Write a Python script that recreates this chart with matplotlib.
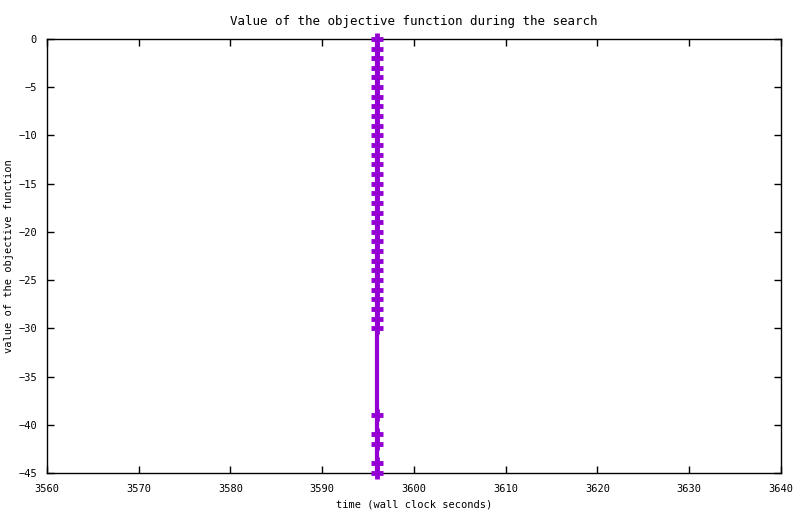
import numpy as np
import matplotlib
matplotlib.use('Agg')
import matplotlib.pyplot as plt

# datos (gnuplot)
tiempo = [3596, 3596, 3596, 3596, 3596, 3596, 3596, 3596, 3596, 3596,
          3596, 3596, 3596, 3596, 3596, 3596, 3596, 3596, 3596, 3596,
          3596, 3596, 3596, 3596, 3596, 3596, 3596, 3596, 3596, 3596,
          3596, 3596, 3596, 3596, 3596, 3596]
objetivo = [0, -1, -2, -3, -4, -5, -6, -7, -8, -9,
            -10, -11, -12, -13, -14, -15, -16, -17, -18, -19,
            -20, -21, -22, -23, -24, -25, -26, -27, -28, -29,
            -30, -39, -41, -42, -44, -45]

xticks = [3560, 3570, 3580, 3590, 3600, 3610, 3620, 3630, 3640]
yticks = [0, -5, -10, -15, -20, -25, -30, -35, -40, -45]

plt.rcParams['font.family'] = 'DejaVu Sans Mono'
plt.rcParams['font.size'] = 7.5

fig = plt.figure(figsize=(8, 5.14), dpi=100)
ax = fig.add_axes([0.0585, 0.0798, 0.9178, 0.8445])

ax.plot(tiempo, objetivo, color='#9400D3', linewidth=3,
        marker='+', markersize=9, markeredgewidth=3.5, clip_on=False, zorder=3)

ax.set_xlim(3560, 3640)
ax.set_ylim(-45, 0)
ax.set_xticks(xticks)
ax.set_yticks(yticks)
ax.tick_params(direction='in', length=5, width=1, top=True, right=True)
ax.tick_params(axis='x', pad=8)
ax.tick_params(axis='y', pad=7)
for s in ax.spines.values():
    s.set_linewidth(1)

ax.set_title('Value of the objective function during the search', pad=10)
ax.set_xlabel('time (wall clock seconds)', labelpad=4)
ax.set_ylabel('value of the objective function', labelpad=3)

fig.savefig('out.png', dpi=100)
